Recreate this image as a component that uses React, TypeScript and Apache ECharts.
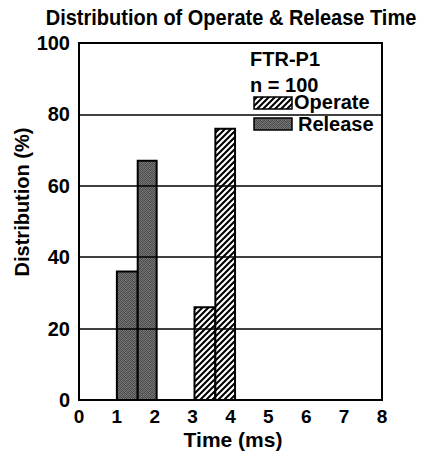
import React, { useEffect, useRef } from "react";
import * as echarts from "echarts";

// ---- data ----
const releaseStart = [1.0, 1.55];
const releaseEnd = [1.55, 2.05];
const releaseValues = [36, 67];

const operateStart = [3.05, 3.6];
const operateEnd = [3.6, 4.12];
const operateValues = [26, 76];

const xTicks = [0, 1, 2, 3, 4, 5, 6, 7, 8];
const yTicks = [0, 20, 40, 60, 80, 100];

const titleText = "Distribution of Operate & Release Time";
const xName = "Time (ms)";
const yName = "Distribution (%)";
const legendHeader = ["FTR-P1", "n = 100"];
const seriesNames = ["Operate", "Release"];

const FONT = "'Liberation Sans', Arial, Helvetica, sans-serif";

function makeHatch() {
  const c = document.createElement("canvas");
  c.width = 6;
  c.height = 6;
  const g = c.getContext("2d")!;
  g.fillStyle = "#fff";
  g.fillRect(0, 0, 6, 6);
  g.strokeStyle = "#000";
  g.lineWidth = 2.1;
  g.beginPath();
  g.moveTo(-1, 7);
  g.lineTo(7, -1);
  g.moveTo(-4, 4);
  g.lineTo(4, -4);
  g.moveTo(2, 10);
  g.lineTo(10, 2);
  g.stroke();
  return { image: c, repeat: "repeat", imageWidth: 6, imageHeight: 6 } as any;
}

function makeStipple() {
  const c = document.createElement("canvas");
  c.width = 4;
  c.height = 4;
  const g = c.getContext("2d")!;
  const tones = [
    ["#4a4a4a", "#7a7a7a", "#555555", "#6e6e6e"],
    ["#747474", "#505050", "#6a6a6a", "#484848"],
    ["#585858", "#707070", "#464646", "#7c7c7c"],
    ["#6c6c6c", "#4c4c4c", "#767676", "#545454"],
  ];
  for (let y = 0; y < 4; y++)
    for (let x = 0; x < 4; x++) {
      g.fillStyle = tones[y][x];
      g.fillRect(x, y, 1, 1);
    }
  return { image: c, repeat: "repeat", imageWidth: 4, imageHeight: 4 } as any;
}

export default function App() {
  const ref = useRef<HTMLDivElement>(null);

  useEffect(() => {
    if (!ref.current) return;
    const chart = echarts.init(ref.current, null, { renderer: "svg" });
    const hatch = makeHatch();
    const stipple = makeStipple();

    const render = (fill: any) => (params: any, api: any) => {
      const x0 = api.value(0);
      const x1 = api.value(1);
      const v = api.value(2);
      const p0 = api.coord([x0, v]);
      const p1 = api.coord([x1, 0]);
      return {
        type: "rect",
        shape: { x: p0[0], y: p0[1], width: p1[0] - p0[0], height: p1[1] - p0[1] },
        style: { fill, stroke: "#000", lineWidth: 2 },
      };
    };

    const releaseData = releaseStart.map((s, i) => [s, releaseEnd[i], releaseValues[i]]);
    const operateData = operateStart.map((s, i) => [s, operateEnd[i], operateValues[i]]);

    chart.setOption({
      animation: false,
      grid: {
        left: 79,
        right: 40,
        top: 43,
        bottom: 59,
        show: true,
        borderColor: "#000",
        borderWidth: 2,
        backgroundColor: "transparent",
      },
      xAxis: {
        type: "value",
        min: xTicks[0],
        max: xTicks[xTicks.length - 1],
        interval: 1,
        axisLine: { show: false },
        axisTick: { show: false },
        splitLine: { show: false },
        axisLabel: {
          color: "#000",
          fontSize: 19,
          lineHeight: 19,
          fontWeight: "bold",
          fontFamily: FONT,
          margin: 7,
        },
      },
      yAxis: {
        type: "value",
        min: yTicks[0],
        max: yTicks[yTicks.length - 1],
        interval: 20,
        z: 5,
        axisLine: { show: false },
        axisTick: { show: false },
        splitLine: { show: true, lineStyle: { color: "#000", width: 1.6 } },
        axisLabel: {
          color: "#000",
          fontSize: 20,
          fontWeight: "bold",
          fontFamily: FONT,
          margin: 9,
          padding: [0, 0, 10, 0],
        },
      },
      series: [
        {
          name: seriesNames[0],
          type: "custom",
          renderItem: render(hatch),
          encode: { x: [0, 1], y: 2 },
          data: operateData,
          z: 2,
        },
        {
          name: seriesNames[1],
          type: "custom",
          renderItem: render(stipple),
          encode: { x: [0, 1], y: 2 },
          data: releaseData,
          z: 2,
        },
      ],
      graphic: [
        {
          type: "text",
          x: 231,
          y: 17,
          scaleY: 1.08,
          style: {
            text: titleText,
            fill: "#000",
            font: `bold 20px ${FONT}`,
            textAlign: "center",
            textVerticalAlign: "middle",
          },
        },
        {
          type: "text",
          x: 233,
          y: 439,
          style: {
            text: xName,
            fill: "#000",
            font: `bold 21px ${FONT}`,
            textAlign: "center",
            textVerticalAlign: "middle",
          },
        },
        {
          type: "text",
          x: 22,
          y: 202,
          rotation: Math.PI / 2,
          style: {
            text: yName,
            fill: "#000",
            font: `bold 20px ${FONT}`,
            textAlign: "center",
            textVerticalAlign: "middle",
          },
        },
        {
          type: "text",
          x: 250,
          y: 59,
          z: 100,
          style: {
            text: legendHeader[0],
            fill: "#000",
            font: `bold 20px ${FONT}`,
            textAlign: "left",
            textVerticalAlign: "middle",
          },
        },
        {
          type: "text",
          x: 250,
          y: 85,
          z: 100,
          style: {
            text: legendHeader[1],
            fill: "#000",
            font: `bold 20px ${FONT}`,
            textAlign: "left",
            textVerticalAlign: "middle",
          },
        },
        {
          type: "rect",
          z: 100,
          shape: { x: 254, y: 97, width: 38, height: 12 },
          style: { fill: hatch, stroke: "#000", lineWidth: 1.5 },
        },
        {
          type: "text",
          x: 294,
          y: 102,
          z: 100,
          style: {
            text: seriesNames[0],
            fill: "#000",
            font: `bold 20px ${FONT}`,
            textAlign: "left",
            textVerticalAlign: "middle",
          },
        },
        {
          type: "rect",
          z: 100,
          shape: { x: 254, y: 118, width: 38, height: 12 },
          style: { fill: stipple, stroke: "#000", lineWidth: 1.5 },
        },
        {
          type: "text",
          x: 298,
          y: 124,
          z: 100,
          style: {
            text: seriesNames[1],
            fill: "#000",
            font: `bold 20px ${FONT}`,
            textAlign: "left",
            textVerticalAlign: "middle",
          },
        },
      ],
    });
    return () => chart.dispose();
  }, []);

  return (
    <div
      ref={ref}
      style={{ position: "absolute", left: 0, top: 0, width: 422, height: 459, background: "#fff" }}
    />
  );
}
